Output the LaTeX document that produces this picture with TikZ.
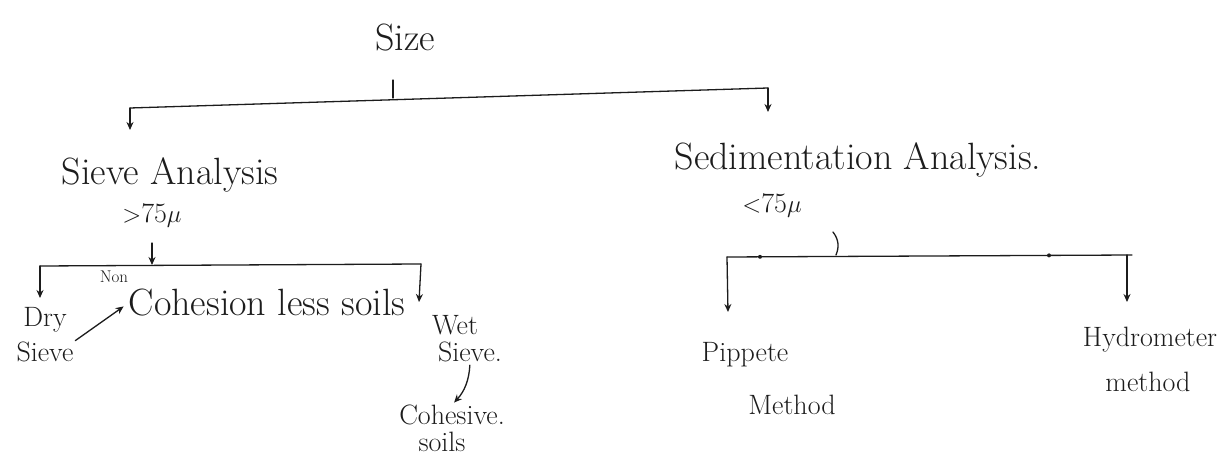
\documentclass[tikz,border=0pt]{standalone}
\usetikzlibrary{arrows.meta}
\definecolor{ink}{HTML}{1C1C1C}
\tikzset{
  hand/.style={font={\fontsize{38}{42}\selectfont}, text=ink, inner sep=0pt},
  handmid/.style={font={\fontsize{28}{32}\selectfont}, text=ink, inner sep=0pt},
  handtiny/.style={font={\fontsize{17}{19}\selectfont}, text=ink, inner sep=0pt},
  pen/.style={draw=ink, line width=1.3pt, line cap=round},
  penarrow/.style={pen, -{Stealth[length=8pt,width=7pt]}},
}
\begin{document}
\begin{tikzpicture}[x=1pt,y=-1pt]
\useasboundingbox[fill=white] (0,0) rectangle (1224,462);
\node[hand] (size) at (405,38) {Size};
\node[hand] (sieve) at (170,175) {Sieve Analysis};
\node[handmid] (sievesize) at (152,215) {$>$75$\mu$};
\node[hand] (sed) at (858,160) {Sedimentation Analysis.};
\node[handmid] (sedsize) at (772,205) {$<$75$\mu$};
\node[handtiny] (non) at (114,277) {Non};
\node[hand] (cohless) at (267,303) {Cohesion less soils};
\node[handmid] (dry) at (45,320) {Dry};
\node[handmid] (drysieve) at (45,352) {Sieve};
\node[handmid] (wet) at (455,325) {Wet};
\node[handmid] (wetsieve) at (470,352) {Sieve.};
\node[handmid] (cohesive) at (452,415) {Cohesive.};
\node[handmid] (cohsoils) at (442,442) {soils};
\node[handmid] (pipette) at (745,355) {Pippete};
\node[handmid] (pipmethod) at (792,405) {Method};
\node[handmid] (hydro) at (1150,340) {Hydrometer};
\node[handmid] (hydmethod) at (1148,382) {method};
\coordinate (sizetick) at (393,80);
\coordinate (sizebar) at (393,98);
\coordinate (topL) at (130,108);
\coordinate (topR) at (768,88);
\coordinate (sievetip) at (130,130);
\coordinate (sedtip) at (768,112);
\draw[pen] (sizetick) -- (sizebar);
\draw[pen] (topL) -- (topR);
\draw[penarrow] (topL) -- (sievetip);
\draw[penarrow] (topR) -- (sedtip);
\coordinate (sievedrop) at (152,243);
\coordinate (sievebarmid) at (152,265);
\coordinate (subL) at (40,266);
\coordinate (subR) at (421,264);
\coordinate (drytip) at (40,298);
\coordinate (wettip) at (419,302);
\draw[penarrow] (sievedrop) -- (sievebarmid);
\draw[pen] (subL) -- (subR);
\draw[penarrow] (subL) -- (drytip);
\draw[penarrow] (subR) -- (wettip);
\draw[penarrow, shorten <=2pt, shorten >=6pt] (drysieve.north east) -- (cohless.west);
\draw[penarrow, shorten <=3pt, shorten >=3pt] (wetsieve.south) to[bend left=20] (cohesive.north);
\coordinate (sedtick) at (833,232);
\coordinate (sedbarmid) at (836,255);
\coordinate (sedL) at (727,257);
\coordinate (sedR) at (1132,255);
\coordinate (piptip) at (728,312);
\coordinate (hydtip) at (1127,302);
\draw[pen] (sedtick) to[bend left=30] (sedbarmid);
\draw[pen] (sedL) -- (sedR);
\fill[ink] (760,256.8) circle (2pt);
\fill[ink] (1049,255.4) circle (2pt);
\draw[penarrow] (sedL) -- (piptip);
\draw[penarrow] (1127,255) -- (hydtip);
\end{tikzpicture}
\end{document}
